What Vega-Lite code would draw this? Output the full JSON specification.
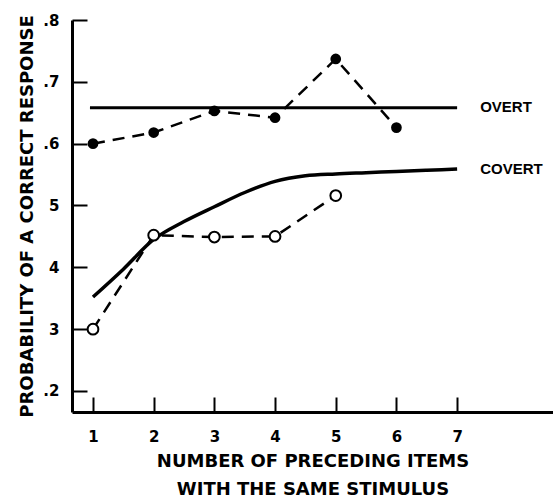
{
  "$schema": "https://vega.github.io/schema/vega-lite/v6.json",
  "width": 481,
  "height": 392,
  "autosize": {"type": "none"},
  "padding": {"left": 72, "top": 20, "right": 0, "bottom": 85},
  "background": "white",
  "config": {"view": {"stroke": null}, "font": "Liberation Sans"},
  "datasets": {
    "overt": [
      {"items": 1, "prob": 0.600},
      {"items": 2, "prob": 0.618},
      {"items": 3, "prob": 0.653},
      {"items": 4, "prob": 0.642},
      {"items": 5, "prob": 0.737},
      {"items": 6, "prob": 0.626}
    ],
    "covert": [
      {"items": 1, "prob": 0.300},
      {"items": 2, "prob": 0.452},
      {"items": 3, "prob": 0.449},
      {"items": 4, "prob": 0.450},
      {"items": 5, "prob": 0.516}
    ],
    "overtLine": [
      {"items": 0.95, "prob": 0.658},
      {"items": 7, "prob": 0.658}
    ],
    "covertCurve": [
      {"items": 1, "prob": 0.352},
      {"items": 1.5, "prob": 0.397},
      {"items": 2, "prob": 0.445},
      {"items": 2.5, "prob": 0.474},
      {"items": 3, "prob": 0.498},
      {"items": 3.5, "prob": 0.521},
      {"items": 4, "prob": 0.539},
      {"items": 4.5, "prob": 0.548},
      {"items": 5, "prob": 0.551},
      {"items": 5.5, "prob": 0.553},
      {"items": 6, "prob": 0.555},
      {"items": 6.5, "prob": 0.557},
      {"items": 7, "prob": 0.559}
    ],
    "labels": [
      {"items": 7.38, "prob": 0.659, "label": "OVERT"},
      {"items": 7.38, "prob": 0.559, "label": "COVERT"}
    ]
  },
  "encoding": {
    "x": {
      "field": "items",
      "type": "quantitative",
      "scale": {"domain": [0.654, 8.58], "nice": false, "zero": false},
      "axis": {
        "values": [1, 2, 3, 4, 5, 6, 7],
        "grid": false,
        "domainColor": "black",
        "domainWidth": 3,
        "tickColor": "black",
        "tickWidth": 2,
        "tickSize": -15,
        "labelPadding": 32,
        "labelFont": "DejaVu Sans",
        "labelFontWeight": "bold",
        "labelFontSize": 15,
        "labelColor": "black",
        "labelFlush": false,
        "title": ["NUMBER OF PRECEDING ITEMS", "WITH THE SAME STIMULUS"],
        "titleFont": "DejaVu Sans",
        "titleFontWeight": "bold",
        "titleFontSize": 18,
        "titleLineHeight": 28,
        "titleColor": "black",
        "titlePadding": 8
      }
    },
    "y": {
      "field": "prob",
      "type": "quantitative",
      "scale": {"domain": [0.166, 0.8], "nice": false, "zero": false},
      "axis": {
        "values": [0.2, 0.3, 0.4, 0.5, 0.6, 0.7, 0.8],
        "labelExpr": "(datum.value > 0.55 || datum.value < 0.25) ? replace(format(datum.value, '.1f'), '0', '') : replace(format(datum.value, '.1f'), '0.', '')",
        "grid": false,
        "domainColor": "black",
        "domainWidth": 3,
        "tickColor": "black",
        "tickWidth": 2,
        "tickSize": -15,
        "labelPadding": 28,
        "labelFont": "DejaVu Sans",
        "labelFontWeight": "bold",
        "labelFontSize": 15,
        "labelColor": "black",
        "labelFlush": false,
        "title": "PROBABILITY OF A CORRECT RESPONSE",
        "titleFont": "DejaVu Sans",
        "titleFontWeight": "bold",
        "titleFontSize": 18,
        "titleColor": "black",
        "titlePadding": 6
      }
    }
  },
  "layer": [
    {
      "data": {"name": "overtLine"},
      "mark": {"type": "line", "color": "black", "strokeWidth": 3}
    },
    {
      "data": {"name": "covertCurve"},
      "mark": {"type": "line", "color": "black", "strokeWidth": 3.5, "interpolate": "monotone"}
    },
    {
      "data": {"name": "overt"},
      "mark": {"type": "line", "color": "black", "strokeWidth": 2.5, "strokeDash": [12, 8]}
    },
    {
      "data": {"name": "covert"},
      "mark": {"type": "line", "color": "black", "strokeWidth": 2.5, "strokeDash": [12, 8]}
    },
    {
      "data": {"name": "overt"},
      "mark": {"type": "point", "filled": true, "color": "black", "size": 115, "opacity": 1}
    },
    {
      "data": {"name": "covert"},
      "mark": {"type": "point", "filled": true, "fill": "white", "stroke": "black", "strokeWidth": 2, "size": 115, "opacity": 1}
    },
    {
      "data": {"name": "labels"},
      "mark": {"type": "text", "align": "left", "baseline": "middle", "font": "Liberation Sans", "fontWeight": "bold", "fontSize": 15, "color": "black"},
      "encoding": {"text": {"field": "label"}}
    }
  ]
}
